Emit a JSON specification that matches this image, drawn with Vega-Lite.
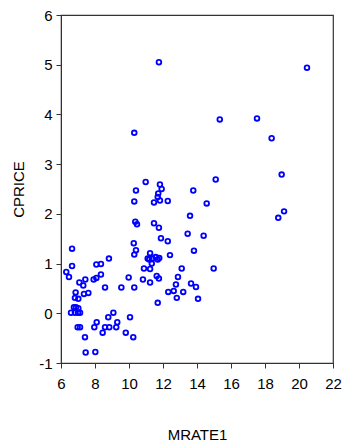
{
  "$schema": "https://vega.github.io/schema/vega-lite/v6.json",
  "autosize": "none",
  "width": 272,
  "height": 348,
  "padding": {"left": 61, "top": 15, "right": 11, "bottom": 83},
  "background": "white",
  "config": {
    "view": {"stroke": "#333333", "strokeWidth": 1.2},
    "font": "Liberation Sans"
  },
  "data": {"values": [
    {"MRATE1": 11.76, "CPRICE": 5.05},
    {"MRATE1": 10.31, "CPRICE": 3.63},
    {"MRATE1": 10.98, "CPRICE": 2.64},
    {"MRATE1": 11.82, "CPRICE": 2.59},
    {"MRATE1": 11.92, "CPRICE": 2.50},
    {"MRATE1": 10.41, "CPRICE": 2.47},
    {"MRATE1": 13.78, "CPRICE": 2.47},
    {"MRATE1": 11.72, "CPRICE": 2.41},
    {"MRATE1": 11.69, "CPRICE": 2.34},
    {"MRATE1": 11.82, "CPRICE": 2.27},
    {"MRATE1": 11.47, "CPRICE": 2.23},
    {"MRATE1": 12.28, "CPRICE": 2.26},
    {"MRATE1": 10.31, "CPRICE": 2.25},
    {"MRATE1": 13.59, "CPRICE": 1.96},
    {"MRATE1": 10.37, "CPRICE": 1.84},
    {"MRATE1": 10.47, "CPRICE": 1.79},
    {"MRATE1": 11.47, "CPRICE": 1.81},
    {"MRATE1": 11.76, "CPRICE": 1.72},
    {"MRATE1": 13.45, "CPRICE": 1.60},
    {"MRATE1": 14.39, "CPRICE": 1.56},
    {"MRATE1": 11.88, "CPRICE": 1.51},
    {"MRATE1": 12.28, "CPRICE": 1.45},
    {"MRATE1": 10.28, "CPRICE": 1.41},
    {"MRATE1": 10.41, "CPRICE": 1.27},
    {"MRATE1": 13.82, "CPRICE": 1.26},
    {"MRATE1": 6.65, "CPRICE": 1.30},
    {"MRATE1": 10.31, "CPRICE": 1.18},
    {"MRATE1": 11.24, "CPRICE": 1.21},
    {"MRATE1": 12.41, "CPRICE": 1.17},
    {"MRATE1": 8.82, "CPRICE": 1.10},
    {"MRATE1": 11.10, "CPRICE": 1.10},
    {"MRATE1": 11.19, "CPRICE": 1.08},
    {"MRATE1": 11.37, "CPRICE": 1.10},
    {"MRATE1": 11.57, "CPRICE": 1.13},
    {"MRATE1": 11.69, "CPRICE": 1.08},
    {"MRATE1": 11.78, "CPRICE": 1.11},
    {"MRATE1": 11.34, "CPRICE": 1.00},
    {"MRATE1": 6.65, "CPRICE": 0.95},
    {"MRATE1": 8.08, "CPRICE": 0.98},
    {"MRATE1": 8.35, "CPRICE": 0.99},
    {"MRATE1": 6.31, "CPRICE": 0.83},
    {"MRATE1": 6.47, "CPRICE": 0.73},
    {"MRATE1": 10.88, "CPRICE": 0.90},
    {"MRATE1": 11.24, "CPRICE": 0.89},
    {"MRATE1": 13.10, "CPRICE": 0.90},
    {"MRATE1": 8.35, "CPRICE": 0.78},
    {"MRATE1": 11.63, "CPRICE": 0.75},
    {"MRATE1": 11.76, "CPRICE": 0.70},
    {"MRATE1": 12.88, "CPRICE": 0.73},
    {"MRATE1": 7.08, "CPRICE": 0.62},
    {"MRATE1": 7.43, "CPRICE": 0.68},
    {"MRATE1": 7.92, "CPRICE": 0.68},
    {"MRATE1": 8.08, "CPRICE": 0.71},
    {"MRATE1": 9.98, "CPRICE": 0.72},
    {"MRATE1": 10.82, "CPRICE": 0.68},
    {"MRATE1": 7.31, "CPRICE": 0.56},
    {"MRATE1": 8.59, "CPRICE": 0.52},
    {"MRATE1": 9.55, "CPRICE": 0.52},
    {"MRATE1": 10.31, "CPRICE": 0.52},
    {"MRATE1": 11.24, "CPRICE": 0.62},
    {"MRATE1": 12.76, "CPRICE": 0.58},
    {"MRATE1": 13.65, "CPRICE": 0.60},
    {"MRATE1": 13.94, "CPRICE": 0.53},
    {"MRATE1": 6.86, "CPRICE": 0.42},
    {"MRATE1": 7.35, "CPRICE": 0.39},
    {"MRATE1": 7.61, "CPRICE": 0.41},
    {"MRATE1": 12.31, "CPRICE": 0.43},
    {"MRATE1": 12.63, "CPRICE": 0.45},
    {"MRATE1": 13.19, "CPRICE": 0.43},
    {"MRATE1": 6.82, "CPRICE": 0.31},
    {"MRATE1": 7.02, "CPRICE": 0.29},
    {"MRATE1": 12.81, "CPRICE": 0.31},
    {"MRATE1": 14.06, "CPRICE": 0.29},
    {"MRATE1": 11.69, "CPRICE": 0.21},
    {"MRATE1": 6.76, "CPRICE": 0.12},
    {"MRATE1": 6.88, "CPRICE": 0.12},
    {"MRATE1": 7.02, "CPRICE": 0.10},
    {"MRATE1": 6.59, "CPRICE": 0.01},
    {"MRATE1": 6.82, "CPRICE": 0.01},
    {"MRATE1": 7.00, "CPRICE": 0.01},
    {"MRATE1": 7.12, "CPRICE": 0.01},
    {"MRATE1": 9.08, "CPRICE": 0.01},
    {"MRATE1": 8.78, "CPRICE": -0.08},
    {"MRATE1": 10.06, "CPRICE": -0.08},
    {"MRATE1": 8.10, "CPRICE": -0.18},
    {"MRATE1": 7.96, "CPRICE": -0.28},
    {"MRATE1": 9.31, "CPRICE": -0.18},
    {"MRATE1": 8.59, "CPRICE": -0.28},
    {"MRATE1": 8.84, "CPRICE": -0.28},
    {"MRATE1": 9.25, "CPRICE": -0.28},
    {"MRATE1": 6.98, "CPRICE": -0.28},
    {"MRATE1": 7.12, "CPRICE": -0.28},
    {"MRATE1": 8.45, "CPRICE": -0.39},
    {"MRATE1": 9.81, "CPRICE": -0.39},
    {"MRATE1": 10.25, "CPRICE": -0.48},
    {"MRATE1": 7.41, "CPRICE": -0.48},
    {"MRATE1": 7.45, "CPRICE": -0.79},
    {"MRATE1": 8.02, "CPRICE": -0.78},
    {"MRATE1": 20.47, "CPRICE": 4.94},
    {"MRATE1": 15.34, "CPRICE": 3.90},
    {"MRATE1": 17.53, "CPRICE": 3.92},
    {"MRATE1": 18.39, "CPRICE": 3.52},
    {"MRATE1": 18.98, "CPRICE": 2.79},
    {"MRATE1": 15.10, "CPRICE": 2.69},
    {"MRATE1": 14.57, "CPRICE": 2.21},
    {"MRATE1": 18.78, "CPRICE": 1.92},
    {"MRATE1": 19.12, "CPRICE": 2.05},
    {"MRATE1": 14.98, "CPRICE": 0.90}
  ]},
  "mark": {"type": "point", "shape": "circle", "filled": false, "color": "#0000FF", "size": 22, "strokeWidth": 1.8, "opacity": 1},
  "encoding": {
    "x": {
      "field": "MRATE1", "type": "quantitative",
      "scale": {"domain": [6, 22], "nice": false, "zero": false},
      "axis": {
        "values": [6, 8, 10, 12, 14, 16, 18, 20, 22],
        "grid": false, "domainColor": "#333333", "tickColor": "#333333",
        "tickSize": 5, "labelPadding": 8, "labelFontSize": 15, "labelColor": "#000000",
        "labelFlush": false, "labelOverlap": false,
        "title": "MRATE1", "titleFontSize": 15, "titleFontWeight": "normal", "titleColor": "#000000",
        "titleBaseline": "middle", "titleY": 71
      }
    },
    "y": {
      "field": "CPRICE", "type": "quantitative",
      "scale": {"domain": [-1, 6], "nice": false, "zero": false},
      "axis": {
        "values": [-1, 0, 1, 2, 3, 4, 5, 6],
        "labelExpr": "datum.value < 0 ? '-' + abs(datum.value) : '' + datum.value",
        "grid": false, "domainColor": "#333333", "tickColor": "#333333",
        "tickSize": 5, "labelPadding": 4, "labelFontSize": 15, "labelColor": "#000000",
        "labelFlush": false, "labelOverlap": false,
        "title": "CPRICE", "titleFontSize": 15, "titleFontWeight": "normal", "titleColor": "#000000",
        "titleBaseline": "middle", "titleX": -43
      }
    }
  }
}
